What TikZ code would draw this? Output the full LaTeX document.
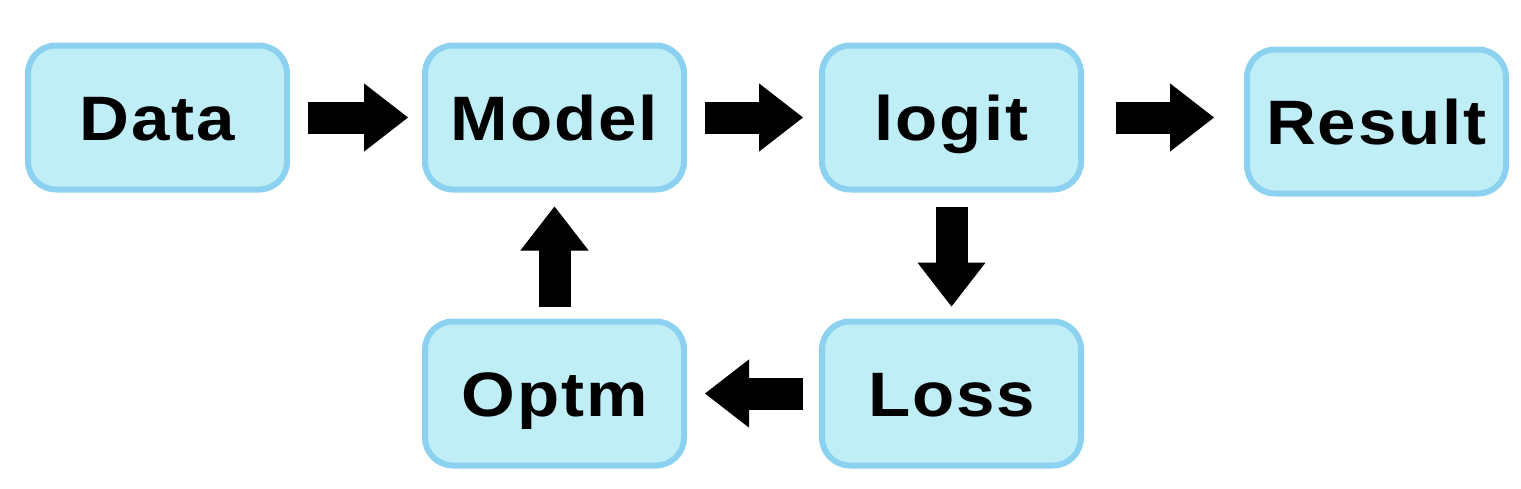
\documentclass[tikz,border=0pt]{standalone}
\usepackage{fontspec}
\setmainfont{Liberation Sans}
\usepackage{xcolor}
\usetikzlibrary{arrows.meta, positioning}

\definecolor{boxfill}{HTML}{C0EEF6}
\definecolor{boxline}{HTML}{8CD2F0}

\begin{document}
\begin{tikzpicture}[
  node distance=63pt and 66pt,
  box/.style={rectangle, draw=boxline, line width=3pt, rounded corners=14pt,
              fill=boxfill, minimum width=129.5pt, minimum height=72pt,
              font=\fontsize{31.4pt}{36pt}\selectfont\bfseries\addfontfeature{FakeStretch=1.1, LetterSpace=3},
              text height=22.5pt, text depth=0pt, inner sep=0pt},
  flow/.style={line width=16pt, black,
               -{Triangle[length=22pt, width=34pt, line width=0.5pt]}}
]
\useasboundingbox (0,0) rectangle (760.5pt,-244pt);

% top row
\node[box] (data) at (78.75pt,-58.75pt) {Data};
\node[box, right=of data]                  (model)  {Model};
\node[box, right=of model]                 (logit)  {logit};
\node[box, right=80pt of logit, yshift=-2pt] (result) {Result};

% bottom row
\node[box, below=of model] (optm) {Optm};
\node[box, below=of logit] (loss) {Loss};

% Arrows: forward pass
\draw[flow, shorten <=9pt, shorten >=7pt] (data.east) -- (model.west);
\draw[flow, shorten <=9pt, shorten >=8pt] (model.east) -- (logit.west);
\draw[flow, shorten <=16pt, shorten >=15pt] (logit.east) -- (logit.east -| result.west);

% Arrows: training loop
\draw[flow, shorten <=7pt, shorten >=6pt] (logit.south) -- (loss.north);
\draw[flow, shorten <=8pt, shorten >=9pt] (loss.west) -- (optm.west -| optm.east);
\draw[flow, shorten <=6pt, shorten >=7pt] (optm.north) -- (model.south);

\end{tikzpicture}
\end{document}
